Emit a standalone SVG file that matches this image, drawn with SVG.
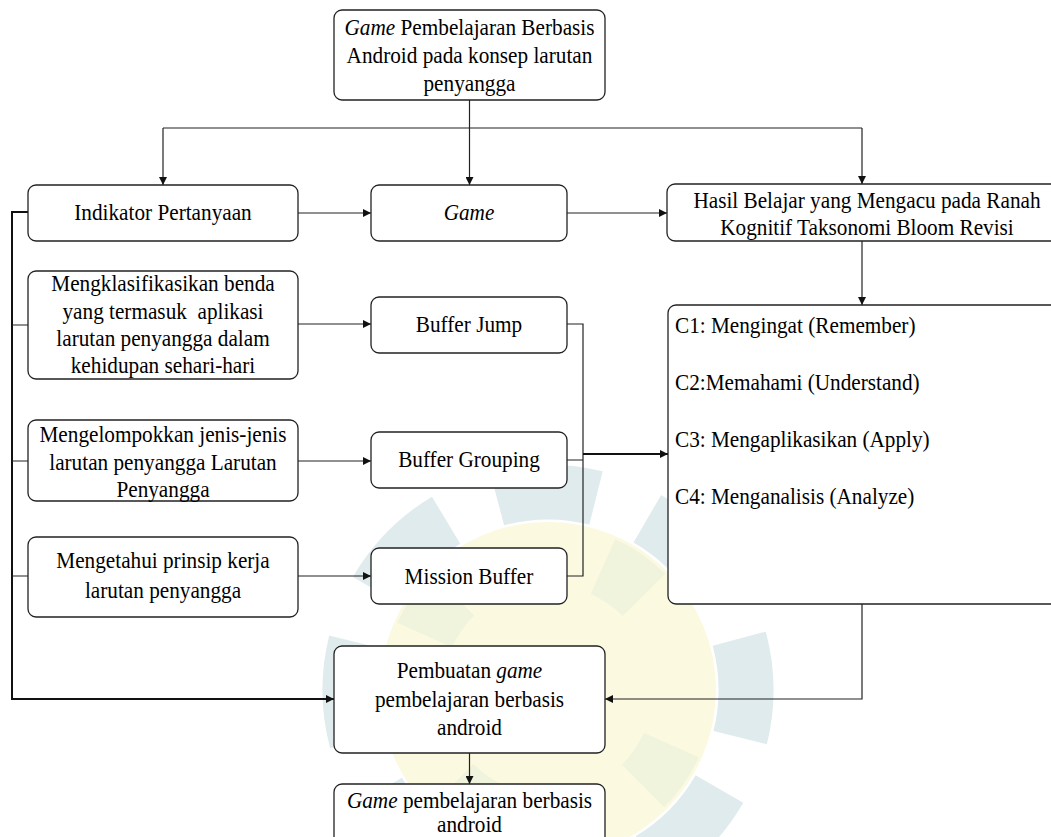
<svg xmlns="http://www.w3.org/2000/svg" width="1051" height="837" viewBox="0 0 1051 837">
<style>
.bx{fill:#fff;stroke:#222;stroke-width:1.3}
.t{font-family:"Liberation Serif","Times New Roman","DejaVu Serif",serif;font-size:23.6px;fill:#000}
.c{text-anchor:middle}
.i{font-style:italic}
.ln{fill:none;stroke:#222;stroke-width:1.2}
.th{fill:none;stroke:#111;stroke-width:2}
</style>
<defs>
<marker id="ah" viewBox="0 0 10 10" refX="10" refY="5" markerWidth="8" markerHeight="8" markerUnits="userSpaceOnUse" orient="auto">
<path d="M0,0 L10,5 L0,10 z" fill="#111"/>
</marker>
</defs>
<rect width="1051" height="837" fill="#fff"/>
<g id="watermark">
<circle cx="548" cy="690" r="168" fill="#fbf9df"/>
<circle cx="548" cy="690" r="135" fill="none" stroke="#f0f4dc" stroke-width="60" stroke-dasharray="50 162" transform="rotate(-66 548 690)"/>
<circle cx="548" cy="690" r="198" fill="none" stroke="#e0ebee" stroke-width="55" stroke-dasharray="100 55.5" transform="rotate(-15 548 690)"/>
</g>
<g id="connectors">
<path class="ln" d="M469.5,100 V185" marker-end="url(#ah)"/>
<path class="ln" d="M163,128 H862"/>
<path class="ln" d="M163,128 V185" marker-end="url(#ah)"/>
<path class="ln" d="M862,128 V184" marker-end="url(#ah)"/>
<path class="ln" d="M298,213 H371" marker-end="url(#ah)"/>
<path class="ln" d="M567,213 H667" marker-end="url(#ah)"/>
<path class="ln" d="M862,241 V305" marker-end="url(#ah)"/>
<path class="th" d="M28,212 H12 V699 H334" marker-end="url(#ah)"/>
<path class="ln" d="M12,325 H28 M12,461 H28 M12,576 H28"/>
<path class="ln" d="M298,324 H371" marker-end="url(#ah)"/>
<path class="ln" d="M298,461 H371" marker-end="url(#ah)"/>
<path class="ln" d="M298,576 H371" marker-end="url(#ah)"/>
<path class="ln" d="M567,324 H583 V576 H567 M567,460 H583"/>
<path class="th" d="M583,454 H668" marker-end="url(#ah)"/>
<path class="ln" d="M862,604 V699 H605" marker-end="url(#ah)"/>
<path class="ln" d="M469.5,753 V784" marker-end="url(#ah)"/>
</g>
<g id="n-top">
<rect class="bx" x="334" y="10" width="271" height="90" rx="8"/>
<g transform="matrix(0.9 0 0 1 46.95 0)">
<text class="t c" x="469.5" y="35"><tspan class="i">Game</tspan> Pembelajaran Berbasis</text>
<text class="t c" x="469.5" y="63">Android pada konsep larutan</text>
<text class="t c" x="469.5" y="91">penyangga</text>
</g>
</g>
<g id="n-indikator">
<rect class="bx" x="28" y="185" width="270" height="56" rx="8"/>
<g transform="matrix(0.9 0 0 1 16.3 0)">
<text class="t c" x="163" y="220">Indikator Pertanyaan</text>
</g>
</g>
<g id="n-game">
<rect class="bx" x="371" y="185" width="196" height="56" rx="8"/>
<g transform="matrix(0.9 0 0 1 46.9 0)">
<text class="t c i" x="469" y="220">Game</text>
</g>
</g>
<g id="n-hasil">
<rect class="bx" x="667" y="184" width="400" height="57" rx="8"/>
<g transform="matrix(0.9 0 0 1 86.7 0)">
<text class="t c" x="867" y="208">Hasil Belajar yang Mengacu pada Ranah</text>
<text class="t c" x="867" y="235">Kognitif Taksonomi Bloom Revisi</text>
</g>
</g>
<g id="n-klasifikasi">
<rect class="bx" x="28" y="271" width="270" height="108" rx="8"/>
<g transform="matrix(0.9 0 0 1 16.3 0)">
<text class="t c" x="163" y="291.5">Mengklasifikasikan benda</text>
<text class="t c" x="163" y="318.8" style="white-space:pre">yang termasuk  aplikasi</text>
<text class="t c" x="163" y="346.1">larutan penyangga dalam</text>
<text class="t c" x="163" y="373.4">kehidupan sehari-hari</text>
</g>
</g>
<g id="n-bufferjump">
<rect class="bx" x="371" y="297" width="196" height="56" rx="8"/>
<g transform="matrix(0.9 0 0 1 46.9 0)">
<text class="t c" x="469" y="332">Buffer Jump</text>
</g>
</g>
<g id="n-kelompok">
<rect class="bx" x="28" y="420" width="270" height="81" rx="8"/>
<g transform="matrix(0.9 0 0 1 16.3 0)">
<text class="t c" x="163" y="442">Mengelompokkan jenis-jenis</text>
<text class="t c" x="163" y="470">larutan penyangga Larutan</text>
<text class="t c" x="163" y="497">Penyangga</text>
</g>
</g>
<g id="n-grouping">
<rect class="bx" x="371" y="432" width="196" height="56" rx="8"/>
<g transform="matrix(0.9 0 0 1 46.9 0)">
<text class="t c" x="469" y="467">Buffer Grouping</text>
</g>
</g>
<g id="n-mengetahui">
<rect class="bx" x="28" y="537" width="270" height="80" rx="8"/>
<g transform="matrix(0.9 0 0 1 16.3 0)">
<text class="t c" x="163" y="568">Mengetahui prinsip kerja</text>
<text class="t c" x="163" y="598">larutan penyangga</text>
</g>
</g>
<g id="n-mission">
<rect class="bx" x="371" y="548" width="196" height="56" rx="8"/>
<g transform="matrix(0.9 0 0 1 46.9 0)">
<text class="t c" x="469" y="584">Mission Buffer</text>
</g>
</g>
<g id="n-c">
<rect class="bx" x="668" y="305" width="400" height="299" rx="8"/>
<g transform="matrix(0.9 0 0 1 67.5 0)">
<text class="t" x="675" y="333">C1: Mengingat (Remember)</text>
<text class="t" x="675" y="390">C2:Memahami (Understand)</text>
<text class="t" x="675" y="447">C3: Mengaplikasikan (Apply)</text>
<text class="t" x="675" y="504">C4: Menganalisis (Analyze)</text>
</g>
</g>
<g id="n-pembuatan">
<rect class="bx" x="334" y="646" width="271" height="107" rx="8"/>
<g transform="matrix(0.9 0 0 1 46.95 0)">
<text class="t c" x="469.5" y="678">Pembuatan <tspan class="i">game</tspan></text>
<text class="t c" x="469.5" y="707">pembelajaran berbasis</text>
<text class="t c" x="469.5" y="735">android</text>
</g>
</g>
<g id="n-final">
<rect class="bx" x="334" y="784" width="271" height="70" rx="8"/>
<g transform="matrix(0.9 0 0 1 46.95 0)">
<text class="t c" x="469.5" y="808"><tspan class="i">Game</tspan> pembelajaran berbasis</text>
<text class="t c" x="469.5" y="832">android</text>
</g>
</g>
</svg>
